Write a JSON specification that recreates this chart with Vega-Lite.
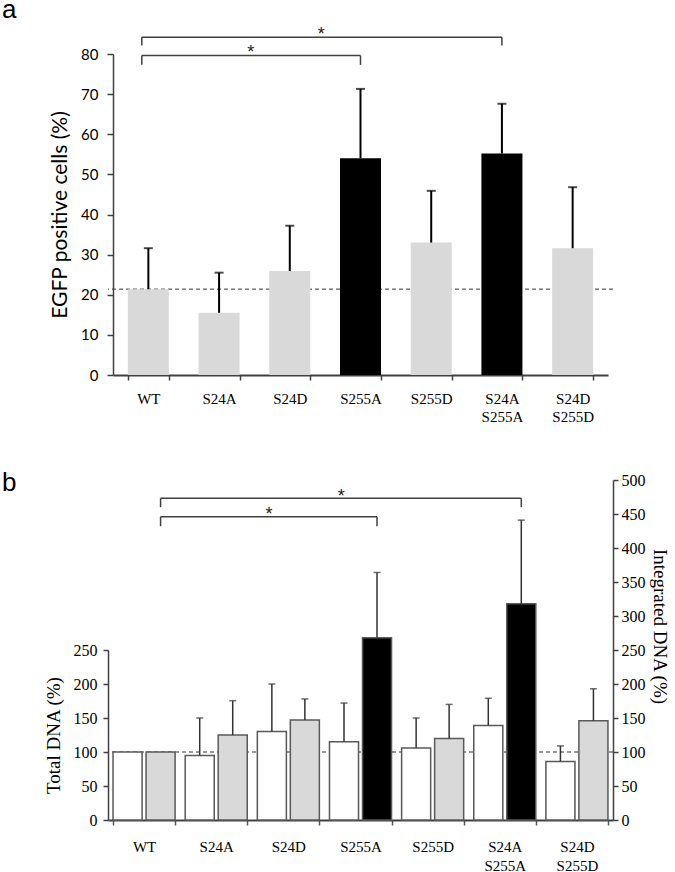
{
  "$schema": "https://vega.github.io/schema/vega-lite/v6.json",
  "background": "white",
  "padding": {"left": 2, "top": -4, "right": 0, "bottom": 0},
  "columns": 1,
  "spacing": 46,
  "config": {"view": {"stroke": null}, "axis": {"grid": false, "labelOverlap": false}},
  "datasets": {
    "a": [
      {"mutant": "WT", "value": 21.4, "err": 31.6, "sig": false},
      {"mutant": "S24A", "value": 15.5, "err": 25.5, "sig": false},
      {"mutant": "S24D", "value": 25.9, "err": 37.2, "sig": false},
      {"mutant": "S255A", "value": 54.0, "err": 71.3, "sig": true},
      {"mutant": "S255D", "value": 33.0, "err": 45.9, "sig": false},
      {"mutant": "S24A S255A", "value": 55.2, "err": 67.6, "sig": true},
      {"mutant": "S24D S255D", "value": 31.6, "err": 46.8, "sig": false}
    ],
    "aref": [{"value": 21.4}],
    "abr": [
      {"from": "WT", "to": "S255A", "y": 79.6, "ybot": 77.3, "star_at": "S24A", "stary": 81.5},
      {"from": "WT", "to": "S24A S255A", "y": 84.2, "ybot": 82.1, "star_at": "S24D", "stary": 86.0}
    ],
    "b": [
      {"mutant": "WT", "measure": "Total DNA", "value": 100, "err": null, "sig": false},
      {"mutant": "WT", "measure": "Integrated DNA", "value": 100, "err": null, "sig": false},
      {"mutant": "S24A", "measure": "Total DNA", "value": 95, "err": 150, "sig": false},
      {"mutant": "S24A", "measure": "Integrated DNA", "value": 125, "err": 175.5, "sig": false},
      {"mutant": "S24D", "measure": "Total DNA", "value": 130, "err": 200, "sig": false},
      {"mutant": "S24D", "measure": "Integrated DNA", "value": 147, "err": 178, "sig": false},
      {"mutant": "S255A", "measure": "Total DNA", "value": 115, "err": 172, "sig": false},
      {"mutant": "S255A", "measure": "Integrated DNA", "value": 268, "err": 364, "sig": true},
      {"mutant": "S255D", "measure": "Total DNA", "value": 106, "err": 150, "sig": false},
      {"mutant": "S255D", "measure": "Integrated DNA", "value": 120, "err": 170, "sig": false},
      {"mutant": "S24A S255A", "measure": "Total DNA", "value": 139, "err": 179, "sig": false},
      {"mutant": "S24A S255A", "measure": "Integrated DNA", "value": 318, "err": 441, "sig": true},
      {"mutant": "S24D S255D", "measure": "Total DNA", "value": 86, "err": 109, "sig": false},
      {"mutant": "S24D S255D", "measure": "Integrated DNA", "value": 146, "err": 193, "sig": false}
    ],
    "bref": [{"value": 100}],
    "bbr": [
      {"from": "WT", "to": "S255A", "y": 446, "ybot": 432, "star_at": "S24D", "stary": 456},
      {"from": "WT", "to": "S24A S255A", "y": 473, "ybot": 460, "star_at": "S255A", "stary": 483}
    ]
  },
  "concat": [
    {
      "width": 500,
      "height": 321,
      "title": {"text": "a", "anchor": "start", "frame": "group", "dx": -106, "dy": 18, "offset": 0, "baseline": "alphabetic", "font": "Liberation Sans", "fontSize": 26, "fontWeight": "normal", "color": "#000000"},
      "layer": [
        {
          "data": {"name": "aref"},
          "mark": {"type": "rule", "strokeDash": [4, 3], "color": "#333333", "strokeWidth": 1, "xOffset": 5},
          "encoding": {
            "y": {"field": "value", "type": "quantitative", "title": "EGFP positive cells (%)", "scale": {"domain": [0, 80], "nice": false}}
          }
        },
        {
          "data": {"name": "a"},
          "mark": {"type": "bar"},
          "encoding": {
            "x": {"field": "mutant", "type": "nominal", "sort": null, "title": null,
              "scale": {"domain": ["WT", "S24A", "S24D", "S255A", "S255D", "S24A S255A", "S24D S255D"], "range": [5, 500], "paddingInner": 0.42, "paddingOuter": 0.21},
              "axis": {"title": null, "labelAngle": 0, "labelFont": "Liberation Serif", "labelFontSize": 15, "labelColor": "#000000", "labelPadding": 11, "labelLineHeight": 18, "labelExpr": "split(datum.label, ' ')", "tickBand": "extent", "tickSize": 5, "tickWidth": 1.5, "tickColor": "#404040", "domainWidth": 2, "domainColor": "#404040"}},
            "y": {"field": "value", "type": "quantitative", "title": "EGFP positive cells (%)", "scale": {"domain": [0, 80], "nice": false},
              "axis": {"title": "EGFP positive cells (%)", "offset": -5, "values": [0, 10, 20, 30, 40, 50, 60, 70, 80], "labelFont": "Lato", "labelFontSize": 15, "labelColor": "#000000", "labelPadding": 9, "tickSize": 6, "tickWidth": 1.5, "tickColor": "#404040", "domainWidth": 1.5, "domainColor": "#404040", "titleFont": "Lato", "titleFontSize": 21, "titleFontWeight": "normal", "titleColor": "#000000", "titlePadding": 10}},
            "fill": {"condition": {"test": "datum.sig", "value": "#000000"}, "value": "#d9d9d9"}
          }
        },
        {
          "data": {"name": "a"},
          "mark": {"type": "rule", "color": "#000000", "strokeWidth": 2},
          "encoding": {
            "x": {"field": "mutant", "type": "nominal", "sort": null, "title": null, "scale": {"domain": ["WT", "S24A", "S24D", "S255A", "S255D", "S24A S255A", "S24D S255D"], "range": [5, 500], "paddingInner": 0.42, "paddingOuter": 0.21}},
            "y": {"field": "value", "type": "quantitative", "title": "EGFP positive cells (%)", "scale": {"domain": [0, 80], "nice": false}},
            "y2": {"field": "err"}
          }
        },
        {
          "data": {"name": "a"},
          "mark": {"type": "tick", "color": "#000000", "size": 9, "thickness": 2},
          "encoding": {
            "x": {"field": "mutant", "type": "nominal", "sort": null, "title": null, "scale": {"domain": ["WT", "S24A", "S24D", "S255A", "S255D", "S24A S255A", "S24D S255D"], "range": [5, 500], "paddingInner": 0.42, "paddingOuter": 0.21}},
            "y": {"field": "err", "type": "quantitative", "title": "EGFP positive cells (%)", "scale": {"domain": [0, 80], "nice": false}}
          }
        },
        {
          "data": {"name": "abr"},
          "mark": {"type": "rule", "color": "#404040", "strokeWidth": 1.5},
          "encoding": {
            "x": {"field": "from", "type": "nominal", "title": null, "bandPosition": 0.34, "scale": {"domain": ["WT", "S24A", "S24D", "S255A", "S255D", "S24A S255A", "S24D S255D"], "range": [5, 500], "paddingInner": 0.42, "paddingOuter": 0.21}},
            "x2": {"field": "to"},
            "y": {"field": "y", "type": "quantitative", "title": "EGFP positive cells (%)", "scale": {"domain": [0, 80], "nice": false}}
          }
        },
        {
          "data": {"name": "abr"},
          "mark": {"type": "rule", "color": "#404040", "strokeWidth": 1.5},
          "encoding": {
            "x": {"field": "from", "type": "nominal", "title": null, "bandPosition": 0.34, "scale": {"domain": ["WT", "S24A", "S24D", "S255A", "S255D", "S24A S255A", "S24D S255D"], "range": [5, 500], "paddingInner": 0.42, "paddingOuter": 0.21}},
            "y": {"field": "y", "type": "quantitative", "title": "EGFP positive cells (%)", "scale": {"domain": [0, 80], "nice": false}},
            "y2": {"field": "ybot"}
          }
        },
        {
          "data": {"name": "abr"},
          "mark": {"type": "rule", "color": "#404040", "strokeWidth": 1.5},
          "encoding": {
            "x": {"field": "to", "type": "nominal", "title": null, "scale": {"domain": ["WT", "S24A", "S24D", "S255A", "S255D", "S24A S255A", "S24D S255D"], "range": [5, 500], "paddingInner": 0.42, "paddingOuter": 0.21}},
            "y": {"field": "y", "type": "quantitative", "title": "EGFP positive cells (%)", "scale": {"domain": [0, 80], "nice": false}},
            "y2": {"field": "ybot"}
          }
        },
        {
          "data": {"name": "abr"},
          "mark": {"type": "text", "text": "*", "font": "Liberation Sans", "fontSize": 18, "color": "#222222", "baseline": "alphabetic", "dy": 10},
          "encoding": {
            "x": {"field": "star_at", "type": "nominal", "title": null, "bandPosition": 1.27, "scale": {"domain": ["WT", "S24A", "S24D", "S255A", "S255D", "S24A S255A", "S24D S255D"], "range": [5, 500], "paddingInner": 0.42, "paddingOuter": 0.21}},
            "y": {"field": "stary", "type": "quantitative", "title": "EGFP positive cells (%)", "scale": {"domain": [0, 80], "nice": false}}
          }
        }
      ]
    },
    {
      "width": 505,
      "height": 340,
      "title": {"text": "b", "anchor": "start", "frame": "group", "dx": -106, "dy": 45, "offset": 0, "baseline": "alphabetic", "font": "Liberation Sans", "fontSize": 26, "fontWeight": "normal", "color": "#000000"},
      "resolve": {"scale": {"y": "independent"}, "axis": {"y": "independent"}},
      "layer": [
        {
          "layer": [
            {
              "data": {"name": "bref"},
              "mark": {"type": "rule", "strokeDash": [4, 3], "color": "#333333", "strokeWidth": 1},
              "encoding": {
                "y": {"field": "value", "type": "quantitative", "title": "Total DNA (%)", "scale": {"domain": [0, 250], "range": [340, 170], "nice": false}}
              }
            },
            {
              "data": {"name": "b"},
              "transform": [{"filter": "datum.measure == 'Total DNA'"}],
              "mark": {"type": "bar", "fill": "#ffffff", "stroke": "#595959", "strokeWidth": 1.5},
              "encoding": {
                "x": {"field": "mutant", "type": "nominal", "sort": null, "title": null,
                  "scale": {"domain": ["WT", "S24A", "S24D", "S255A", "S255D", "S24A S255A", "S24D S255D"], "paddingInner": 0.14, "paddingOuter": 0.07},
                  "axis": {"title": null, "labelAngle": 0, "labelFont": "Liberation Serif", "labelFontSize": 15, "labelColor": "#000000", "labelPadding": 14, "labelLineHeight": 19, "labelExpr": "split(datum.label, ' ')", "tickBand": "extent", "tickSize": 5, "tickWidth": 1.5, "tickColor": "#595959", "domainWidth": 2, "domainColor": "#404040"}},
                "xOffset": {"field": "measure", "type": "nominal", "scale": {"domain": ["Total DNA", "Integrated DNA"], "paddingInner": 0.12, "paddingOuter": 0}},
                "y": {"field": "value", "type": "quantitative", "title": "Total DNA (%)", "scale": {"domain": [0, 250], "range": [340, 170], "nice": false},
                  "axis": {"title": "Total DNA (%)", "orient": "left", "values": [0, 50, 100, 150, 200, 250], "labelFont": "Liberation Serif", "labelFontSize": 16, "labelColor": "#000000", "labelPadding": 6, "tickSize": 5, "tickWidth": 1.5, "tickColor": "#404040", "domainWidth": 1.5, "domainColor": "#404040", "titleFont": "Liberation Serif", "titleFontSize": 19, "titleFontWeight": "normal", "titleColor": "#000000", "titlePadding": 10}}
              }
            },
            {
              "data": {"name": "b"},
              "transform": [{"filter": "datum.measure == 'Total DNA' && isValid(datum.err)"}],
              "mark": {"type": "rule", "color": "#333333", "strokeWidth": 1.5},
              "encoding": {
                "x": {"field": "mutant", "type": "nominal", "sort": null, "title": null, "scale": {"domain": ["WT", "S24A", "S24D", "S255A", "S255D", "S24A S255A", "S24D S255D"], "paddingInner": 0.14, "paddingOuter": 0.07}},
                "xOffset": {"field": "measure", "type": "nominal", "scale": {"domain": ["Total DNA", "Integrated DNA"], "paddingInner": 0.12, "paddingOuter": 0}},
                "y": {"field": "value", "type": "quantitative", "title": "Total DNA (%)", "scale": {"domain": [0, 250], "range": [340, 170], "nice": false}},
                "y2": {"field": "err"}
              }
            },
            {
              "data": {"name": "b"},
              "transform": [{"filter": "datum.measure == 'Total DNA' && isValid(datum.err)"}],
              "mark": {"type": "tick", "color": "#333333", "size": 7, "thickness": 1.5},
              "encoding": {
                "x": {"field": "mutant", "type": "nominal", "sort": null, "title": null, "scale": {"domain": ["WT", "S24A", "S24D", "S255A", "S255D", "S24A S255A", "S24D S255D"], "paddingInner": 0.14, "paddingOuter": 0.07}},
                "xOffset": {"field": "measure", "type": "nominal", "scale": {"domain": ["Total DNA", "Integrated DNA"], "paddingInner": 0.12, "paddingOuter": 0}},
                "y": {"field": "err", "type": "quantitative", "title": "Total DNA (%)", "scale": {"domain": [0, 250], "range": [340, 170], "nice": false}}
              }
            }
          ]
        },
        {
          "layer": [
            {
              "data": {"name": "b"},
              "transform": [{"filter": "datum.measure == 'Integrated DNA'"}],
              "mark": {"type": "bar", "stroke": "#595959", "strokeWidth": 1.5},
              "encoding": {
                "x": {"field": "mutant", "type": "nominal", "sort": null, "title": null, "scale": {"domain": ["WT", "S24A", "S24D", "S255A", "S255D", "S24A S255A", "S24D S255D"], "paddingInner": 0.14, "paddingOuter": 0.07}},
                "xOffset": {"field": "measure", "type": "nominal", "scale": {"domain": ["Total DNA", "Integrated DNA"], "paddingInner": 0.12, "paddingOuter": 0}},
                "y": {"field": "value", "type": "quantitative", "title": "Integrated DNA (%)", "scale": {"domain": [0, 500], "nice": false},
                  "axis": {"title": "Integrated DNA (%)", "orient": "right", "values": [0, 50, 100, 150, 200, 250, 300, 350, 400, 450, 500], "tickCount": 11, "labelOverlap": false, "labelFont": "Liberation Serif", "labelFontSize": 16, "labelColor": "#000000", "labelPadding": 3, "tickSize": 5, "tickWidth": 1.5, "tickColor": "#404040", "domainWidth": 1.5, "domainColor": "#404040", "titleFont": "Liberation Serif", "titleFontSize": 19, "titleFontWeight": "normal", "titleColor": "#000000", "titlePadding": 4, "titleAngle": 90, "titleY": 146}},
                "fill": {"condition": {"test": "datum.sig", "value": "#000000"}, "value": "#d9d9d9"}
              }
            },
            {
              "data": {"name": "b"},
              "transform": [{"filter": "datum.measure == 'Integrated DNA' && isValid(datum.err)"}],
              "mark": {"type": "rule", "color": "#333333", "strokeWidth": 1.5},
              "encoding": {
                "x": {"field": "mutant", "type": "nominal", "sort": null, "title": null, "scale": {"domain": ["WT", "S24A", "S24D", "S255A", "S255D", "S24A S255A", "S24D S255D"], "paddingInner": 0.14, "paddingOuter": 0.07}},
                "xOffset": {"field": "measure", "type": "nominal", "scale": {"domain": ["Total DNA", "Integrated DNA"], "paddingInner": 0.12, "paddingOuter": 0}},
                "y": {"field": "value", "type": "quantitative", "title": "Integrated DNA (%)", "scale": {"domain": [0, 500], "nice": false},
                  "axis": {"title": "Integrated DNA (%)", "orient": "right", "values": [0, 50, 100, 150, 200, 250, 300, 350, 400, 450, 500], "tickCount": 11, "labelOverlap": false, "labelFont": "Liberation Serif", "labelFontSize": 16, "labelColor": "#000000", "labelPadding": 3, "tickSize": 5, "tickWidth": 1.5, "tickColor": "#404040", "domainWidth": 1.5, "domainColor": "#404040", "titleFont": "Liberation Serif", "titleFontSize": 19, "titleFontWeight": "normal", "titleColor": "#000000", "titlePadding": 4, "titleAngle": 90, "titleY": 146}},
                "y2": {"field": "err"}
              }
            },
            {
              "data": {"name": "b"},
              "transform": [{"filter": "datum.measure == 'Integrated DNA' && isValid(datum.err)"}],
              "mark": {"type": "tick", "color": "#333333", "size": 7, "thickness": 1.5},
              "encoding": {
                "x": {"field": "mutant", "type": "nominal", "sort": null, "title": null, "scale": {"domain": ["WT", "S24A", "S24D", "S255A", "S255D", "S24A S255A", "S24D S255D"], "paddingInner": 0.14, "paddingOuter": 0.07}},
                "xOffset": {"field": "measure", "type": "nominal", "scale": {"domain": ["Total DNA", "Integrated DNA"], "paddingInner": 0.12, "paddingOuter": 0}},
                "y": {"field": "err", "type": "quantitative", "title": "Integrated DNA (%)", "scale": {"domain": [0, 500], "nice": false},
                  "axis": {"title": "Integrated DNA (%)", "orient": "right", "values": [0, 50, 100, 150, 200, 250, 300, 350, 400, 450, 500], "tickCount": 11, "labelOverlap": false, "labelFont": "Liberation Serif", "labelFontSize": 16, "labelColor": "#000000", "labelPadding": 3, "tickSize": 5, "tickWidth": 1.5, "tickColor": "#404040", "domainWidth": 1.5, "domainColor": "#404040", "titleFont": "Liberation Serif", "titleFontSize": 19, "titleFontWeight": "normal", "titleColor": "#000000", "titlePadding": 4, "titleAngle": 90, "titleY": 146}}
              }
            },
            {
              "data": {"name": "bbr"},
              "mark": {"type": "rule", "color": "#404040", "strokeWidth": 1.5},
              "encoding": {
                "x": {"field": "from", "type": "nominal", "title": null, "bandPosition": 0.766, "scale": {"domain": ["WT", "S24A", "S24D", "S255A", "S255D", "S24A S255A", "S24D S255D"], "paddingInner": 0.14, "paddingOuter": 0.07}},
                "x2": {"field": "to", "bandPosition": 0.766},
                "y": {"field": "y", "type": "quantitative", "title": "Integrated DNA (%)", "scale": {"domain": [0, 500], "nice": false},
                  "axis": {"title": "Integrated DNA (%)", "orient": "right", "values": [0, 50, 100, 150, 200, 250, 300, 350, 400, 450, 500], "tickCount": 11, "labelOverlap": false, "labelFont": "Liberation Serif", "labelFontSize": 16, "labelColor": "#000000", "labelPadding": 3, "tickSize": 5, "tickWidth": 1.5, "tickColor": "#404040", "domainWidth": 1.5, "domainColor": "#404040", "titleFont": "Liberation Serif", "titleFontSize": 19, "titleFontWeight": "normal", "titleColor": "#000000", "titlePadding": 4, "titleAngle": 90, "titleY": 146}}
              }
            },
            {
              "data": {"name": "bbr"},
              "mark": {"type": "rule", "color": "#404040", "strokeWidth": 1.5},
              "encoding": {
                "x": {"field": "from", "type": "nominal", "title": null, "bandPosition": 0.766, "scale": {"domain": ["WT", "S24A", "S24D", "S255A", "S255D", "S24A S255A", "S24D S255D"], "paddingInner": 0.14, "paddingOuter": 0.07}},
                "y": {"field": "y", "type": "quantitative", "title": "Integrated DNA (%)", "scale": {"domain": [0, 500], "nice": false},
                  "axis": {"title": "Integrated DNA (%)", "orient": "right", "values": [0, 50, 100, 150, 200, 250, 300, 350, 400, 450, 500], "tickCount": 11, "labelOverlap": false, "labelFont": "Liberation Serif", "labelFontSize": 16, "labelColor": "#000000", "labelPadding": 3, "tickSize": 5, "tickWidth": 1.5, "tickColor": "#404040", "domainWidth": 1.5, "domainColor": "#404040", "titleFont": "Liberation Serif", "titleFontSize": 19, "titleFontWeight": "normal", "titleColor": "#000000", "titlePadding": 4, "titleAngle": 90, "titleY": 146}},
                "y2": {"field": "ybot"}
              }
            },
            {
              "data": {"name": "bbr"},
              "mark": {"type": "rule", "color": "#404040", "strokeWidth": 1.5},
              "encoding": {
                "x": {"field": "to", "type": "nominal", "title": null, "bandPosition": 0.766, "scale": {"domain": ["WT", "S24A", "S24D", "S255A", "S255D", "S24A S255A", "S24D S255D"], "paddingInner": 0.14, "paddingOuter": 0.07}},
                "y": {"field": "y", "type": "quantitative", "title": "Integrated DNA (%)", "scale": {"domain": [0, 500], "nice": false},
                  "axis": {"title": "Integrated DNA (%)", "orient": "right", "values": [0, 50, 100, 150, 200, 250, 300, 350, 400, 450, 500], "tickCount": 11, "labelOverlap": false, "labelFont": "Liberation Serif", "labelFontSize": 16, "labelColor": "#000000", "labelPadding": 3, "tickSize": 5, "tickWidth": 1.5, "tickColor": "#404040", "domainWidth": 1.5, "domainColor": "#404040", "titleFont": "Liberation Serif", "titleFontSize": 19, "titleFontWeight": "normal", "titleColor": "#000000", "titlePadding": 4, "titleAngle": 90, "titleY": 146}},
                "y2": {"field": "ybot"}
              }
            },
            {
              "data": {"name": "bbr"},
              "mark": {"type": "text", "text": "*", "font": "Liberation Sans", "fontSize": 18, "color": "#222222", "baseline": "alphabetic", "dy": 10},
              "encoding": {
                "x": {"field": "star_at", "type": "nominal", "title": null, "bandPosition": 0.19, "scale": {"domain": ["WT", "S24A", "S24D", "S255A", "S255D", "S24A S255A", "S24D S255D"], "paddingInner": 0.14, "paddingOuter": 0.07}},
                "y": {"field": "stary", "type": "quantitative", "title": "Integrated DNA (%)", "scale": {"domain": [0, 500], "nice": false},
                  "axis": {"title": "Integrated DNA (%)", "orient": "right", "values": [0, 50, 100, 150, 200, 250, 300, 350, 400, 450, 500], "tickCount": 11, "labelOverlap": false, "labelFont": "Liberation Serif", "labelFontSize": 16, "labelColor": "#000000", "labelPadding": 3, "tickSize": 5, "tickWidth": 1.5, "tickColor": "#404040", "domainWidth": 1.5, "domainColor": "#404040", "titleFont": "Liberation Serif", "titleFontSize": 19, "titleFontWeight": "normal", "titleColor": "#000000", "titlePadding": 4, "titleAngle": 90, "titleY": 146}}
              }
            }
          ]
        }
      ]
    }
  ]
}
